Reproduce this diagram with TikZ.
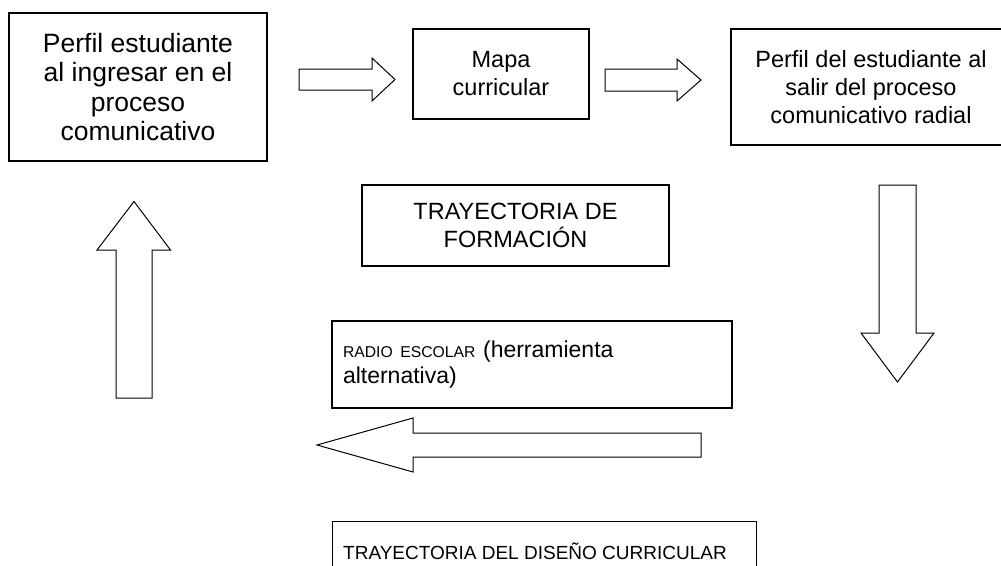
\documentclass[tikz,border=0pt]{standalone}
\usepackage{fontspec}
\setmainfont{Liberation Sans}
\begin{document}
\begin{tikzpicture}[x=1pt,y=-1pt,
  box/.style={draw, line width=1.1pt, inner sep=0pt, align=center},
  blockarrow/.style={draw, line width=1pt, fill=white, line join=miter},
  big/.style={font=\fontsize{26.5}{29.5}\selectfont},
  mid/.style={font=\fontsize{23.5}{28}\selectfont}]
\useasboundingbox (0,0) rectangle (1001,565);
\fill[white] (0,0) rectangle (1001,565);
% boxes
\node[box, big, minimum width=258pt, minimum height=148pt] (perfilin) at (138,87)
  {Perfil estudiante\\al ingresar en el\\proceso\\comunicativo};
\node[box, mid, minimum width=176pt, minimum height=90pt] (mapa) at (501,74)
  {Mapa\\curricular};
\node[box, mid, minimum width=280pt, minimum height=116pt] (perfilout) at (871,87)
  {Perfil del estudiante al\\salir del proceso\\comunicativo radial};
\node[box, mid, minimum width=307pt, minimum height=81pt] (tray) at (515.5,225.5)
  {TRAYECTORIA DE\\FORMACIÓN};
\node[box, align=left, text width=378pt, minimum width=400pt, minimum height=87pt,
  font=\fontsize{23}{26.5}\selectfont] (radio) at (532,364.5)
  {{\fontsize{15.7}{18}\selectfont RADIO ESCOLAR }(herramienta\\alternativa)};
\node[draw, line width=1.1pt, inner sep=0pt, minimum width=424pt, minimum height=80pt,
  anchor=north west] (diseno) at (332,521) {};
\node[anchor=base west, inner sep=0pt, font=\fontsize{19}{22}\selectfont] (disenotxt)
  at (343,559) {TRAYECTORIA DEL DISEÑO CURRICULAR};
% block arrows
\draw[blockarrow] (299,69) -- (372,69) -- (372,58) -- (395,79.5) -- (372,101) -- (372,90) -- (299,90) -- cycle;
\draw[blockarrow] (605,69) -- (677,69) -- (677,59) -- (701,80) -- (677,101) -- (677,91) -- (605,91) -- cycle;
\draw[blockarrow] (879,185) -- (916,185) -- (916,333) -- (934,333) -- (897.5,382) -- (861,333) -- (879,333) -- cycle;
\draw[blockarrow] (701,433) -- (413,433) -- (413,418) -- (317,445) -- (413,472) -- (413,457) -- (701,457) -- cycle;
\draw[blockarrow] (116,398) -- (116,250) -- (97,250) -- (134,201.5) -- (170.5,250) -- (152,250) -- (152,398) -- cycle;
\end{tikzpicture}
\end{document}
